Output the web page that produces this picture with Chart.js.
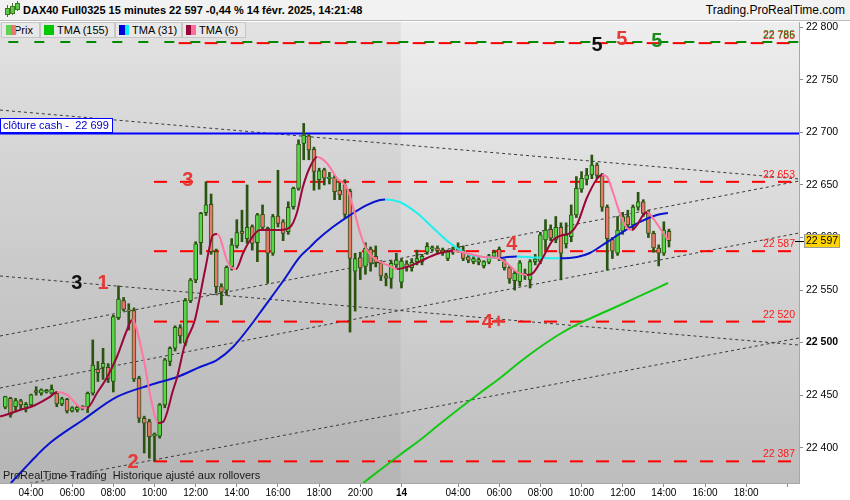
<!DOCTYPE html>
<html>
<head>
<meta charset="utf-8">
<title>DAX40 Full0325 15 minutes</title>
<script src="https://cdn.jsdelivr.net/npm/chart.js@4.4.1/dist/chart.umd.min.js"></script>
<style>
  html, body { margin: 0; padding: 0; background: #fff; }
  #wrap { position: relative; width: 850px; height: 500px; overflow: hidden; font-family: "Liberation Sans", Arial, sans-serif; }
  #chart { position: absolute; left: 0; top: 0; }
  #head { position: absolute; left: 0; top: 0; width: 850px; height: 21px; background: #f2f2f2; border-bottom: 1px solid #bcbcbc; box-sizing: border-box; }
  #title { position: absolute; left: 23px; top: 4px; font-size: 11px; font-weight: bold; color: #000; white-space: nowrap; }
  #site { position: absolute; right: 5px; top: 3px; font-size: 12px; color: #000; white-space: nowrap; }
  .ic { position: absolute; background: #5fc84a; border: 1px solid #3d7a22; }
  .icw { position: absolute; width: 1px; background: #3d7a22; }
  .tab { position: absolute; top: 22px; height: 16px; box-sizing: border-box; border: 1px solid #c6c6c6; background: #e8e8e8; font-size: 11px; line-height: 14px; color: #000; white-space: nowrap; }
  .sw { position: absolute; top: 2px; width: 10px; height: 10px; }
</style>
</head>
<body>
<div id="wrap">
  <canvas id="chart" width="850" height="500"></canvas>
  <div id="head">
    <div class="icw" style="left:7px;top:5px;height:12px"></div><div class="ic" style="left:5px;top:8px;width:3px;height:5px"></div>
    <div class="icw" style="left:12px;top:3px;height:12px"></div><div class="ic" style="left:10px;top:6px;width:3px;height:6px"></div>
    <div class="icw" style="left:17px;top:1px;height:10px"></div><div class="ic" style="left:15px;top:3px;width:3px;height:5px"></div>
    <div id="title">DAX40 Full0325 15 minutes 22 597 -0,44 % 14 févr. 2025, 14:21:48</div>
    <div id="site">Trading.ProRealTime.com</div>
  </div>
  <div class="tab" style="left:1px;width:39px;padding-left:12px">Prix<div class="sw" style="left:4px;width:5px;background:#5fd04f"></div><div class="sw" style="left:9px;width:5px;background:#e8786a"></div></div>
  <div class="tab" style="left:40px;width:75px;padding-left:16px">TMA (155)<div class="sw" style="left:3px;background:#00c800"></div></div>
  <div class="tab" style="left:115px;width:67px;padding-left:16px">TMA (31)<div class="sw" style="left:3px;width:6px;background:#0000d8"></div><div class="sw" style="left:9px;width:4px;background:#00f0ff"></div></div>
  <div class="tab" style="left:182px;width:64px;padding-left:16px">TMA (6)<div class="sw" style="left:3px;width:5px;background:#98053a"></div><div class="sw" style="left:8px;width:5px;background:#ff6f9c"></div></div>
</div>
<script>
// 15 minute bars, 13 Feb 02:45 -> 14 Feb 14:15 (index 77 = first bar of 14 Feb)
const openP = [22438.5,22447,22439,22444.5,22438.5,22440.7,22454.3,22452,22453,22451.8,22451.8,22441.6,22446,22435,22436,22437.5,22438.5,22451.8,22474.6,22476.5,
  22476.5,22463,22523.7,22540,22531,22530.4,22466,22428,22424.9,22411,22411,22440.7,22482,22494.6,22514.3,22499.4,22540,22559.6,22595,22623.7,
  22631.6,22586.6,22553.3,22550,22572.3,22592,22606,22599,22610.4,22595,22622,22608.8,22585,22620.5,22615,22605.6,22629.4,22646.8,22689.6,22696.7,
  22684,22655,22664.4,22656,22657,22645,22650,22644,22568,22581,22572.4,22589,22582,22575.6,22563.5,22561.2,22573.9,22557.4,22575,
  22571.3,22577,22577,22586,22589,22590,22585,22580,22589,22588,22588,22581.7,22577,22576.5,22573,22576.5,22582,22588.8,22577,22571.3,
  22559,22558,22566,22559.7,22577,22577.2,22597.7,22607.8,22598.3,22609.7,22593.9,22600.9,22621.5,22645.9,22655.4,22659.5,22669,22659,22629,
  22598,22585,22606,22620,22612,22629,22634,22623,22604,22590,22585,22606];
const highP = [22449,22448,22447,22446,22443,22451,22458,22456,22455.5,22459.7,22453,22448,22447,22439,22440,22440,22453,22502.5,22482,22494.6,
  22480,22526,22554,22543,22537,22533,22468,22430,22427,22414,22442,22485,22496,22516,22517,22542,22561,22596,22624,22653,
  22641.4,22589,22556,22573,22599,22617,22626,22650,22612,22623,22631,22610,22622,22664,22617,22634,22648,22693,22708.6,22698,
  22686,22666,22666,22662,22659,22652,22655,22646,22585,22586,22595,22591,22592,22578,22566,22578,22585,22580,22578,
  22580,22588,22584,22595,22592,22592,22590,22588,22591,22595,22592,22583,22582,22581,22578,22584,22588,22591,22579,22573,
  22568,22578,22570,22579,22584,22605,22617,22612,22620,22614,22614,22631,22658,22662.7,22665.8,22678.5,22671,22661,22631,
  22600,22620,22624,22626,22631,22643,22636,22626,22606,22593,22615,22608];
const lowP = [22437,22429,22434,22436,22434,22439,22450,22450,22452,22451,22439,22440,22433,22434,22434,22436,22433.4,22450,22463,22465,
  22462,22453,22522,22530,22512,22463,22424,22395,22390,22387,22409,22438,22478,22492,22499.4,22497,22538,22557,22584,22621,
  22584,22547,22536,22545,22569,22590,22596,22594.5,22588,22577,22608,22556.5,22583,22610,22597,22603,22627,22645,22674,22674,
  22645,22646,22650,22651,22636,22636,22619,22510,22530,22560,22565,22568,22572,22559,22554,22551.7,22570,22552,22568,
  22568,22574,22574,22584,22587,22585,22583,22578,22584,22586,22578,22576,22575,22574,22571,22575,22580,22578,22569,22556.4,
  22550,22554,22560,22552,22574,22575,22588,22597,22595,22559.7,22590,22596,22619,22643,22650,22656,22656,22625,22569,
  22580,22583,22603,22608,22608,22626,22620,22600,22586,22573,22583,22591];
const closeP = [22448.6,22431.2,22444.8,22440.7,22441.3,22450.2,22452.7,22455,22454.5,22455.6,22441.6,22446.4,22435,22438,22438.5,22439.5,22451.8,22478.7,22471.4,22480.3,
  22466,22524.7,22541.5,22531.7,22530,22465.4,22428,22423.3,22410.6,22413,22440.7,22483.5,22494.6,22514.6,22506.3,22540,22559.6,22594,22623,22631,
  22586.6,22553.3,22548,22571.7,22593,22604.7,22604,22609.7,22594.5,22621.5,22609.7,22585,22620,22613.5,22604,22628.7,22646.8,22689,22697.5,22683.4,
  22662.8,22663.4,22656.4,22657.5,22643.7,22640.6,22622,22580,22580,22571,22589.8,22575.6,22576,22563.5,22561.3,22575.4,22578.6,22577.7,22572,
  22576.4,22580,22582,22591.7,22590.5,22587.5,22588,22586.6,22586.6,22591,22580,22578.5,22580,22579,22577,22582.7,22586,22579.3,22571.3,22560.6,
  22566,22576,22564,22577.2,22579.4,22602.5,22607.2,22599.3,22609.7,22585,22602.4,22621.5,22646.8,22656.3,22659.5,22669,22659,22629,22599,
  22587,22607,22620,22612,22629,22634,22623,22604,22590,22585,22607,22597];

// moving averages (bar index, value)
const tma6Idx = [-1.03,0,2.86,5.42,8.67,10.05,12.02,14.49,15.87,17.84,19.81,21.68,23.65,24.64,26.8,28.48,29.66,30.65,32.62,33.41,34.88,
  36.85,38.83,40.4,41.19,41.68,43.06,44.05,44.84,46.22,47.6,49.47,51.44,53.41,55.38,56.66,57.84,59.22,60.6,62.48,64.45,
  66.42,67.6,68.98,70.26,72.23,74.2,76.17,78.04,80.02,81.99,84.45,87.01,90.36,92.83,95.59,97.46,99.43,101.4,102.58,104.55,
  106.43,108.4,109.78,111.16,113.03,115,115.98,116.97,118.15,119.43,120.81,121.8,122.78,123.97,124.75,125.84,127.22,128.79];
const tma6Val = [22429.6,22431.1,22435.9,22439.7,22448.3,22453,22450.2,22438.7,22437.8,22452.1,22467.3,22486.3,22512,22521.5,22486.3,22442.5,22423.5,22424.5,22454.9,22467.3,22497.7,
  22521.5,22569.1,22602.4,22603.4,22600.5,22578.6,22571,22570,22585.3,22597.6,22607.2,22607.2,22607.2,22610,22623.3,22648.1,22667.1,22676.6,22670.9,22656.6,
  22647.1,22629,22604.3,22588.1,22578.6,22573.9,22570,22571.9,22575.8,22580.5,22585.3,22587.2,22584.3,22581.5,22580.5,22575.8,22567.2,22564.3,22566.2,22581.5,
  22597.6,22602.4,22604.3,22612.9,22637.6,22655.7,22659.5,22657.6,22642.4,22623.3,22609.1,22607.2,22611.9,22621.4,22624.3,22618.6,22609.1,22597.6];
const tma31Idx = [1.08,3.45,6.21,8.67,15.08,21.68,28.18,33.41,37.84,41.19,44.25,48.48,49.47,54,57.25,59.22,60.6,63.66,67.01,70.26,72.82,73.81,76.67,80.02,83.17,86.42,89.77,92.83,96.18,97.56,
  99.43,102.58,107.8,111.16,113.62,116.97,120.02,123.37,126.63,128.79];
const tma31Val = [22366.4,22378.8,22393.1,22404.5,22426.4,22448.3,22459.7,22467.3,22476.8,22483.5,22495.8,22521.5,22528.2,22558.6,22581.5,22590.9,22597.6,22610,22621.4,22630.9,
  22635.7,22636.2,22633.8,22623.3,22609.1,22594.8,22584.3,22581.5,22580.5,22581.5,22582,22581,22580.2,22581.5,22585.3,22595.7,22605.3,22614.8,22621.4,22623.3];
const tma155Idx = [69.57,72.82,76.67,80.61,84.45,88.39,92.24,96.18,100.02,103.96,107.8,111.75,115.59,119.53,123.37,128.79];
const tma155Val = [22366.4,22378.8,22393.1,22407.3,22422.6,22437.8,22452.1,22466.3,22481.6,22495.8,22508.2,22518.7,22527.2,22535.8,22544.4,22556.7];

// drawn objects
const trendLeft = [22721.3, 22563.4, 22506.3, 22456.8, 22360.7];
const trendRight = [22655.7, 22497.7, 22653.8, 22604.3, 22504.4];
const levels = [22653, 22587, 22520, 22387];
const levelText = ['22 653', '22 587', '22 520', '22 387'];
const levelStart = 28.9;
const topGreen = 22786, topRed = 22785;
const cashClose = 22699;
const lastPrice = 22597;

const tickIdx = [5,13,21,29,37,45,53,61,69,77,88,96,104,112,120,128,136,144,152];
const tickText = ['04:00','06:00','08:00','10:00','12:00','14:00','16:00','18:00','20:00','14',
  '04:00','06:00','08:00','10:00','12:00','14:00','16:00','18:00',''];
const priceTicks = [22400,22450,22500,22550,22600,22650,22700,22750,22800];

const marks = [
  { t: '3', i: 35.47, v: 22654.7, c: '#e53935' },
  { t: '3', i: 13.89, v: 22555.8, c: '#111' },
  { t: '1', i: 19.02, v: 22555.8, c: '#e53935' },
  { t: '2', i: 24.83, v: 22385.5, c: '#e53935' },
  { t: '4', i: 98.44, v: 22593.8, c: '#e53935' },
  { t: '4+', i: 94.8, v: 22519.6, c: '#e53935' },
  { t: '5', i: 115, v: 22783.2, c: '#111' },
  { t: '5', i: 119.83, v: 22788, c: '#e53935' },
  { t: '5', i: 126.63, v: 22787, c: '#1e8a1e' }
];

const xMin = -1.03, xMax = 154.27, yMin = 22366.4, yMax = 22805.1;
const dayBreak = 76.9;
const FONT = '"Liberation Sans", Arial, sans-serif';

const bars = openP.map((o, i) => i);
const wickData = bars.map(i => ({ x: i, y: [lowP[i], highP[i]] }));
const bodyData = bars.map(i => ({ x: i, y: [openP[i], closeP[i]] }));
const bodyColors = bars.map(i => closeP[i] >= openP[i] ? '#56d846' : '#e8786a');

const pairs = (xs, ys) => xs.map((x, k) => ({ x: x, y: ys[k] }));
const twoColor = (upC, downC) => ({ borderColor: c => c.p1.parsed.y >= c.p0.parsed.y ? upC : downC });

const lineBase = { type: 'line', pointRadius: 0, fill: false, cubicInterpolationMode: 'monotone' };

const datasets = [];
trendLeft.forEach((v, k) => {
  datasets.push({ type: 'line', data: [{ x: xMin, y: v }, { x: xMax, y: trendRight[k] }],
    borderColor: '#3a3a3a', borderWidth: 1, borderDash: [3, 3], pointRadius: 0, order: 20 });
});
levels.forEach(v => {
  datasets.push({ type: 'line', data: [{ x: levelStart, y: v }, { x: xMax, y: v }],
    borderColor: '#ff0000', borderWidth: 2, borderDash: [13, 13], pointRadius: 0, order: 19 });
});
datasets.push({ type: 'line', data: [{ x: 33.7, y: topRed }, { x: xMax, y: topRed }],
  borderColor: '#ff0000', borderWidth: 2, borderDash: [13, 13], pointRadius: 0, order: 18 });
datasets.push({ type: 'line', data: [{ x: 0, y: topGreen }, { x: xMax, y: topGreen }],
  borderColor: '#008a00', borderWidth: 2, borderDash: [10, 16], borderDashOffset: -3, pointRadius: 0, order: 17 });
datasets.push({ type: 'line', data: [{ x: xMin, y: cashClose }, { x: xMax, y: cashClose }],
  borderColor: '#0000ff', borderWidth: 2, pointRadius: 0, order: 16 });
datasets.push({ type: 'bar', data: wickData, backgroundColor: '#2b5412', barThickness: 2, grouped: false, order: 12 });
datasets.push({ type: 'bar', data: bodyData, backgroundColor: bodyColors, borderColor: '#2b5412', borderWidth: 1,
  borderSkipped: false, barThickness: 4, grouped: false, order: 11 });
datasets.push(Object.assign({}, lineBase, { data: pairs(tma155Idx, tma155Val), borderColor: '#13c813', borderWidth: 2, order: 5 }));
datasets.push(Object.assign({}, lineBase, { data: pairs(tma31Idx, tma31Val), borderColor: '#0a14d0', borderWidth: 2,
  segment: twoColor('#0a14d0', '#1ef0f0'), order: 4 }));
datasets.push(Object.assign({}, lineBase, { data: pairs(tma6Idx, tma6Val), borderColor: '#9a0638', borderWidth: 2,
  segment: twoColor('#9a0638', '#ff76a0'), order: 3 }));

const background = {
  id: 'background',
  beforeDraw(chart) {
    const { ctx, chartArea: a, scales: { x } } = chart;
    const split = x.getPixelForValue(dayBreak);
    const g1 = ctx.createLinearGradient(0, a.top, 0, a.bottom);
    g1.addColorStop(0, '#e2e2e2');
    g1.addColorStop(1, '#b5b5b5');
    const g2 = ctx.createLinearGradient(0, a.top, 0, a.bottom);
    g2.addColorStop(0, '#eeeeee');
    g2.addColorStop(1, '#bdbdbd');
    ctx.save();
    ctx.fillStyle = g1;
    ctx.fillRect(a.left, a.top, split - a.left, a.bottom - a.top);
    ctx.fillStyle = g2;
    ctx.fillRect(split, a.top, a.right - split, a.bottom - a.top);
    ctx.restore();
  }
};

const notes = {
  id: 'notes',
  afterDatasetsDraw(chart) {
    const { ctx, chartArea: a, scales: { x, y } } = chart;
    ctx.save();
    ctx.font = '10.5px ' + FONT;
    ctx.textAlign = 'right';
    ctx.textBaseline = 'alphabetic';
    levels.forEach((v, k) => {
      ctx.fillStyle = '#ff1a1a';
      ctx.fillText(levelText[k], a.right - 4, y.getPixelForValue(v) - 4);
    });
    ctx.fillStyle = '#ff1a1a';
    ctx.fillText('22 785', a.right - 4, y.getPixelForValue(topRed) - 4);
    ctx.fillStyle = 'rgba(20,120,0,0.85)';
    ctx.fillText('22 786', a.right - 4, y.getPixelForValue(topGreen) - 4);

    // wave counts
    ctx.textAlign = 'center';
    ctx.textBaseline = 'middle';
    ctx.font = 'bold 20px ' + FONT;
    marks.forEach(m => {
      ctx.fillStyle = m.c;
      ctx.fillText(m.t, x.getPixelForValue(m.i), y.getPixelForValue(m.v));
    });

    // cash close tag
    const yc = Math.round(y.getPixelForValue(cashClose));
    ctx.fillStyle = '#fff';
    ctx.fillRect(a.left, yc - 15, 113, 15);
    ctx.strokeStyle = '#0000ff';
    ctx.lineWidth = 1;
    ctx.strokeRect(a.left + 0.5, yc - 14.5, 112, 14);
    ctx.fillStyle = '#0000cc';
    ctx.font = '11px ' + FONT;
    ctx.textAlign = 'left';
    ctx.fillText('clôture cash -  22 699', a.left + 3, yc - 7);

    ctx.fillStyle = '#1a1a1a';
    ctx.fillText('ProRealTime Trading  Historique ajusté aux rollovers', a.left + 3, a.bottom - 7);
    ctx.restore();
  },
  afterDraw(chart) {
    const { ctx, chartArea: a, scales: { y } } = chart;
    const yp = Math.round(y.getPixelForValue(lastPrice));
    ctx.save();
    ctx.strokeStyle = '#000';
    ctx.lineWidth = 1;
    ctx.beginPath();
    ctx.moveTo(a.right - 4, yp + 0.5);
    ctx.lineTo(a.right + 6, yp + 0.5);
    ctx.stroke();
    ctx.fillStyle = '#ffd400';
    ctx.fillRect(a.right + 5, yp - 7, 36, 14);
    ctx.strokeStyle = '#9c9c9c';
    ctx.strokeRect(a.right + 5.5, yp - 6.5, 35, 13);
    ctx.fillStyle = '#000';
    ctx.font = '10.5px ' + FONT;
    ctx.textBaseline = 'middle';
    ctx.fillText('22 597', a.right + 7, yp + 0.5);
    ctx.restore();
  }
};

Chart.defaults.font.family = FONT;
Chart.defaults.color = '#000';

new Chart(document.getElementById('chart').getContext('2d'), {
  type: 'bar',
  data: { datasets: datasets },
  options: {
    responsive: false,
    animation: false,
    events: [],
    layout: { padding: { top: 22, left: 0, right: 0, bottom: 0 } },
    plugins: { legend: { display: false }, tooltip: { enabled: false } },
    scales: {
      x: {
        type: 'linear', min: xMin, max: xMax, offset: false,
        afterBuildTicks: s => { s.ticks = tickIdx.map(v => ({ value: v })); },
        afterFit: s => { s.height = 17; },
        ticks: {
          autoSkip: false, maxRotation: 0, padding: 0,
          callback: (v) => tickText[tickIdx.indexOf(v)],
          font: c => ({ size: 10, weight: c.tick && c.tick.value === 77 ? 'bold' : 'normal' })
        },
        grid: { drawOnChartArea: false, offset: false, tickLength: 4, color: '#8c8c8c' },
        border: { display: true, color: '#a8a8a8' }
      },
      y: {
        position: 'right', min: yMin, max: yMax,
        afterBuildTicks: s => { s.ticks = priceTicks.map(v => ({ value: v })); },
        afterFit: s => { s.width = 51; },
        ticks: {
          padding: 3,
          callback: v => String(v).slice(0, 2) + ' ' + String(v).slice(2),
          font: c => ({ size: 10.5, weight: c.tick && c.tick.value === 22500 ? 'bold' : 'normal' })
        },
        grid: { drawOnChartArea: false, tickLength: 4, color: '#8c8c8c' },
        border: { display: true, color: '#a8a8a8' }
      }
    }
  },
  plugins: [background, notes]
});
</script>
</body>
</html>
